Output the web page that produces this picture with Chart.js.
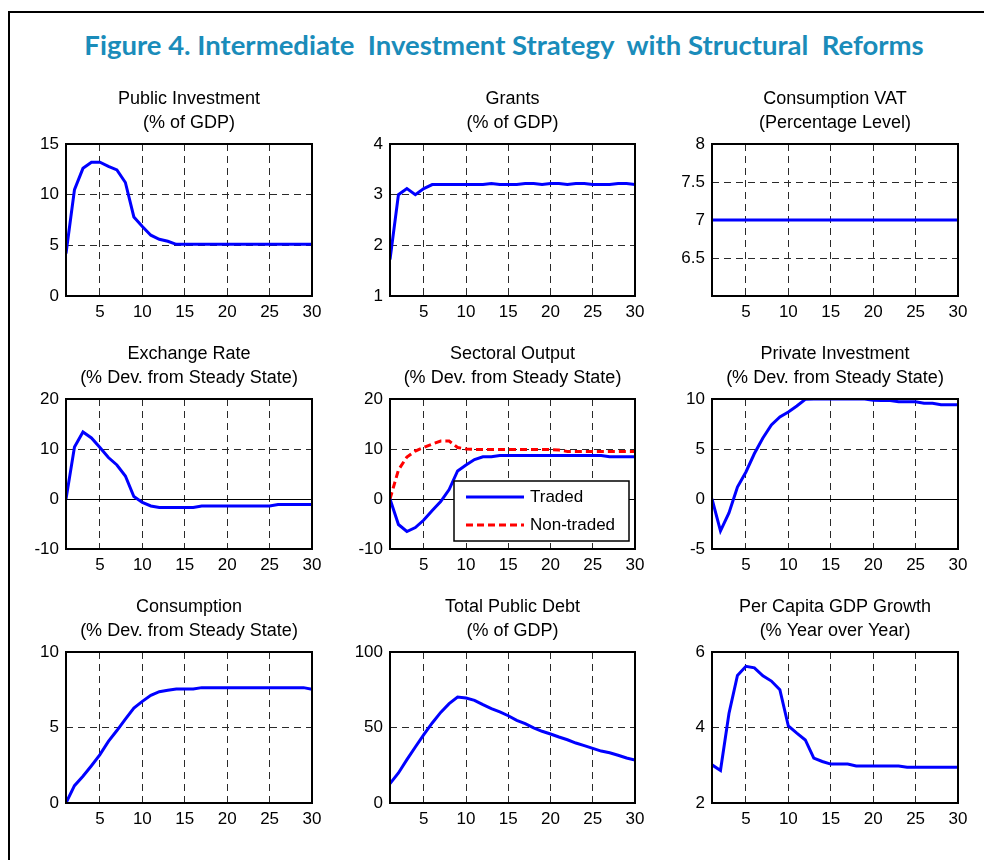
<!DOCTYPE html>
<html>
<head>
<meta charset="utf-8">
<script src="https://cdn.jsdelivr.net/npm/chart.js@4.4.1/dist/chart.umd.min.js"></script>
<style>
  body { margin: 0; background: #fff; }
  #page { position: relative; width: 984px; height: 860px; overflow: hidden; background: #fff; }
  #frame { position: absolute; left: 8px; top: 11px; width: 1000px; height: 900px; border: 2px solid #000; }
  #title { position: absolute; left: 0; width: 1008px; top: 28px; text-align: center; white-space: pre;
           font-family: Lato, "Open Sans", sans-serif; font-weight: bold; font-size: 27.5px; color: #1a8cba; }
  canvas { position: absolute; }
</style>
</head>
<body>
<div id="page">
  <div id="frame"></div>
  <div id="title">Figure 4. Intermediate  Investment Strategy  with Structural  Reforms</div>
  <canvas id="c1"></canvas><canvas id="c2"></canvas><canvas id="c3"></canvas>
  <canvas id="c4"></canvas><canvas id="c5"></canvas><canvas id="c6"></canvas>
  <canvas id="c7"></canvas><canvas id="c8"></canvas><canvas id="c9"></canvas>
</div>
<script>
const periods = [1,2,3,4,5,6,7,8,9,10,11,12,13,14,15,16,17,18,19,20,21,22,23,24,25,26,27,28,29,30];
const xTicks = [5, 10, 15, 20, 25, 30];

const publicInvestment = [4.2,10.5,12.6,13.2,13.2,12.8,12.45,11.2,7.8,6.85,6.0,5.6,5.4,5.1,5.1,
                          5.1,5.1,5.1,5.1,5.1,5.1,5.1,5.1,5.1,5.1,5.1,5.1,5.1,5.1,5.1];
const grants = [1.72,3.0,3.12,3.0,3.12,3.2,3.2,3.2,3.2,3.2,3.2,3.2,3.22,3.2,3.2,
                3.2,3.22,3.22,3.2,3.22,3.22,3.2,3.22,3.22,3.2,3.2,3.2,3.22,3.22,3.2];
const consumptionVat = [7,7,7,7,7,7,7,7,7,7,7,7,7,7,7,7,7,7,7,7,7,7,7,7,7,7,7,7,7,7];
const exchangeRate = [0,10.4,13.4,12.2,10.3,8.3,6.8,4.6,0.5,-0.7,-1.4,-1.7,-1.7,-1.7,-1.7,
                      -1.7,-1.4,-1.4,-1.4,-1.4,-1.4,-1.4,-1.4,-1.4,-1.4,-1.1,-1.1,-1.1,-1.1,-1.1];
const tradedOutput = [0,-5.1,-6.5,-5.7,-4.2,-2.3,-0.5,1.9,5.6,6.8,7.9,8.45,8.45,8.7,8.7,
                      8.7,8.7,8.7,8.7,8.7,8.7,8.7,8.7,8.7,8.7,8.7,8.45,8.45,8.45,8.45];
const nonTradedOutput = [0,5.8,8.4,9.6,10.3,11.0,11.6,11.6,10.3,10.0,9.9,9.9,9.9,9.9,9.9,
                         9.9,9.9,9.9,9.9,9.9,9.8,9.5,9.5,9.5,9.5,9.5,9.5,9.5,9.5,9.5];
const privateInvestment = [0,-3.2,-1.4,1.2,2.7,4.55,6.1,7.4,8.2,8.7,9.3,9.97,10,10,10,
                           10,10,10,10,9.87,9.85,9.85,9.73,9.73,9.73,9.57,9.57,9.43,9.43,9.43];
const consumption = [0,1.15,1.77,2.47,3.2,4.08,4.8,5.56,6.29,6.73,7.13,7.37,7.46,7.55,7.55,
                     7.55,7.64,7.64,7.64,7.64,7.64,7.64,7.64,7.64,7.64,7.64,7.64,7.64,7.64,7.53];
const publicDebt = [12.8,19.9,28.7,37.1,45.3,53,60,65.8,70.2,69.5,68,65.1,62.5,60.3,57.8,
                    54.7,52.5,49.7,47.5,45.7,43.7,41.9,39.7,38,36.2,34.4,33.3,31.6,29.8,28.5];
const gdpGrowth = [3.01,2.86,4.37,5.38,5.62,5.58,5.37,5.23,5.0,4.04,3.85,3.67,3.19,3.10,3.03,
                   3.03,3.03,2.98,2.98,2.98,2.98,2.98,2.98,2.95,2.95,2.95,2.95,2.95,2.95,2.95];

const FONT = '"Liberation Sans", Arial, sans-serif';
const M = 48;            // side margin of each canvas
const TOP = 57;          // title block above plot
const XH = 30;           // x axis height
const colLeft = [66, 390, 712];
const colWidth = [246, 245, 246];
const rowTop = [144, 399, 652];
const rowHeight = [152, 150, 151];
const GRID = '#2a2a2a', DASH = [7, 5];

// box around the plot area
const framePlugin = {
  id: 'frame',
  afterDraw(chart) {
    const a = chart.chartArea, ctx = chart.ctx;
    ctx.save();
    ctx.strokeStyle = '#000';
    ctx.lineWidth = 2;
    ctx.strokeRect(a.left, a.top, a.right - a.left, a.bottom - a.top);
    ctx.restore();
  }
};

// MATLAB style legend box in the lower right of the plot
const boxLegend = {
  id: 'boxLegend',
  afterDraw(chart) {
    if (!chart.options.plugins.boxLegend) return;
    const a = chart.chartArea, ctx = chart.ctx;
    const w = 175, h = 60;
    const left = a.right - 6 - w, top = a.bottom - 8 - h;
    ctx.save();
    ctx.fillStyle = '#fff';
    ctx.fillRect(left, top, w, h);
    ctx.strokeStyle = '#000';
    ctx.lineWidth = 1.5;
    ctx.strokeRect(left, top, w, h);
    chart.data.datasets.forEach((ds, i) => {
      const y = top + 16 + i * 28;
      ctx.strokeStyle = ds.borderColor;
      ctx.lineWidth = ds.borderWidth;
      ctx.setLineDash(ds.borderDash || []);
      ctx.beginPath();
      ctx.moveTo(left + 12, y);
      ctx.lineTo(left + 70, y);
      ctx.stroke();
      ctx.setLineDash([]);
      ctx.fillStyle = '#000';
      ctx.font = '17px ' + FONT;
      ctx.textBaseline = 'middle';
      ctx.fillText(ds.label, left + 76, y);
    });
    ctx.restore();
  }
};

function makeChart(n, row, col, title, series, yMin, yMax, yTicks, legend) {
  const canvas = document.getElementById('c' + n);
  const w = colWidth[col] + 2 * M, h = TOP + rowHeight[row] + XH;
  canvas.width = w; canvas.height = h;
  canvas.style.left = (colLeft[col] - M) + 'px';
  canvas.style.top = (rowTop[row] - TOP) + 'px';
  canvas.style.width = w + 'px'; canvas.style.height = h + 'px';

  const datasets = series.map(s => ({
    label: s.label,
    data: periods.map((p, i) => ({ x: p, y: s.values[i] })),
    borderColor: s.color,
    borderWidth: 3,
    borderDash: s.dash || [],
    pointRadius: 0,
    tension: 0,
    fill: false
  }));

  return new Chart(canvas.getContext('2d'), {
    type: 'line',
    data: { datasets },
    options: {
      responsive: false,
      animation: false,
      devicePixelRatio: 1,
      layout: { padding: 0 },
      scales: {
        x: {
          type: 'linear', min: 1, max: 30,
          afterBuildTicks: s => { s.ticks = xTicks.map(v => ({ value: v })); },
          afterFit: s => { s.height = XH; },
          grid: { color: GRID, lineWidth: 1, drawTicks: false },
          border: { display: false, dash: DASH },
          ticks: { color: '#000', font: { family: FONT, size: 17 }, padding: 6, maxRotation: 0,
                   callback: v => String(v) }
        },
        y: {
          type: 'linear', min: yMin, max: yMax,
          afterBuildTicks: s => { s.ticks = yTicks.map(v => ({ value: v })); },
          afterFit: s => { s.width = M; },
          grid: {
            drawTicks: false, lineWidth: 1,
            color: c => (c.tick && c.tick.value === 0 ? '#000' : GRID)
          },
          border: { display: false, dash: c => (c.tick && c.tick.value === 0 ? [] : DASH) },
          ticks: { color: '#000', font: { family: FONT, size: 17 }, padding: 7,
                   callback: v => String(v) }
        },
        // empty right-hand axis keeps the plot centred under its title
        yRight: {
          type: 'linear', position: 'right', min: yMin, max: yMax,
          afterFit: s => { s.width = M; },
          grid: { display: false },
          border: { display: false },
          ticks: { display: false }
        }
      },
      plugins: {
        legend: { display: false },
        tooltip: { enabled: false },
        boxLegend: legend,
        title: {
          display: true, text: title, color: '#000',
          font: { family: FONT, size: 18, weight: 'normal', lineHeight: 24 / 18 },
          padding: { top: 0, bottom: 9 }
        }
      }
    },
    plugins: [framePlugin, boxLegend]
  });
}

const blue = '#0000ff', red = '#ff0000';

makeChart(1, 0, 0, ['Public Investment', '(% of GDP)'],
  [{ label: 'Public Investment', values: publicInvestment, color: blue }], 0, 15, [0, 5, 10, 15]);
makeChart(2, 0, 1, ['Grants', '(% of GDP)'],
  [{ label: 'Grants', values: grants, color: blue }], 1, 4, [1, 2, 3, 4]);
makeChart(3, 0, 2, ['Consumption VAT', '(Percentage Level)'],
  [{ label: 'Consumption VAT', values: consumptionVat, color: blue }], 6, 8, [6.5, 7, 7.5, 8]);
makeChart(4, 1, 0, ['Exchange Rate', '(% Dev. from Steady State)'],
  [{ label: 'Exchange Rate', values: exchangeRate, color: blue }], -10, 20, [-10, 0, 10, 20]);
makeChart(5, 1, 1, ['Sectoral Output', '(% Dev. from Steady State)'],
  [{ label: 'Traded', values: tradedOutput, color: blue },
   { label: 'Non-traded', values: nonTradedOutput, color: red, dash: [7, 4] }],
  -10, 20, [-10, 0, 10, 20], true);
makeChart(6, 1, 2, ['Private Investment', '(% Dev. from Steady State)'],
  [{ label: 'Private Investment', values: privateInvestment, color: blue }], -5, 10, [-5, 0, 5, 10]);
makeChart(7, 2, 0, ['Consumption', '(% Dev. from Steady State)'],
  [{ label: 'Consumption', values: consumption, color: blue }], 0, 10, [0, 5, 10]);
makeChart(8, 2, 1, ['Total Public Debt', '(% of GDP)'],
  [{ label: 'Total Public Debt', values: publicDebt, color: blue }], 0, 100, [0, 50, 100]);
makeChart(9, 2, 2, ['Per Capita GDP Growth', '(% Year over Year)'],
  [{ label: 'Per Capita GDP Growth', values: gdpGrowth, color: blue }], 2, 6, [2, 4, 6]);
</script>
</body>
</html>
